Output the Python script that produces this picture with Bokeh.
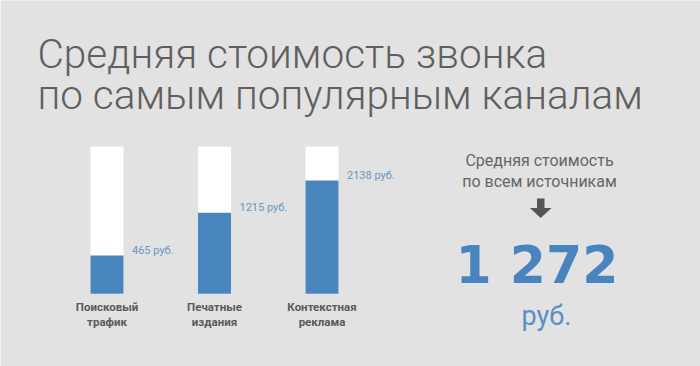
from bokeh.plotting import figure
from bokeh.models import Range1d, ColumnDataSource
from bokeh.core.properties import value
from bokeh.embed import file_html
from bokeh.resources import INLINE

# ---------------- data ----------------
title_lines = ["Средняя стоимость звонка", "по самым популярным каналам"]
categories = ["Поисковый трафик", "Печатные издания", "Контекстная реклама"]
cost_rub = [465, 1215, 2138]
fill_pct = [26, 55, 77]          # fill level of each bar as drawn, % of bar height
full_pct = 100
avg_heading = ["Средняя стоимость", "по всем источникам"]
avg_cost_rub = 1272
unit = "руб."

# ---------------- style ----------------
BG = "#e1e2e1"
BAR_BLUE = "#4a86be"
LABEL_BLUE = "#6d96c6"
BIG_BLUE = "#4a84bf"
TITLE_GREY = "#5f5f5f"
CAT_GREY = "#5a5a5a"
HEAD_GREY = "#666666"

W, H = 700, 366


def span(v0, p0, v1, p1, pa, pb):
    """range values at pixel positions pa (start) and pb (end) for a linear map v0->p0, v1->p1"""
    k = (v1 - v0) / (p1 - p0)
    return v0 + (pa - p0) * k, v0 + (pb - p0) * k


p = figure(width=W, height=H, output_backend="svg", toolbar_location=None,
           x_range=Range1d(0, W), y_range=Range1d(H, 0),
           min_border=0, background_fill_color=BG, border_fill_color=BG,
           outline_line_color=None)
p.axis.visible = False
p.grid.visible = False

# bar scales: index -> horizontal position, percent -> vertical position
xs, xe = span(0, 106.5, 2, 321.5, 0, W)
ys, ye = span(0, 293.3, 100, 146.0, H, 0)
p.extra_x_ranges = {"idx": Range1d(xs, xe)}
p.extra_y_ranges = {"pct": Range1d(ys, ye)}
bar_w = 33 / ((321.5 - 106.5) / 2)

src = ColumnDataSource(dict(
    idx=list(range(len(categories))),
    full=[full_pct] * len(categories),
    fill=fill_pct,
    zero=[0] * len(categories),
    label=[f"{v} {unit}" for v in cost_rub],
    line1=[c.split(" ")[0] for c in categories],
    line2=[c.split(" ")[1] for c in categories],
))

p.vbar(x="idx", width=bar_w, bottom="zero", top="full", source=src,
       x_range_name="idx", y_range_name="pct",
       fill_color="white", line_color=None)
p.vbar(x="idx", width=bar_w, bottom="zero", top="fill", source=src,
       x_range_name="idx", y_range_name="pct",
       fill_color=BAR_BLUE, line_color=None)

p.text(x="idx", y="fill", text="label", source=src,
       x_range_name="idx", y_range_name="pct",
       x_offset=25, y_offset=-5, text_align="left", text_baseline="middle",
       text_font=value("Roboto"), text_font_size="11px", text_color=LABEL_BLUE)

for col, off in (("line1", 13.5), ("line2", 28.5)):
    p.text(x="idx", y="zero", text=col, source=src,
           x_range_name="idx", y_range_name="pct",
           y_offset=off, text_align="center", text_baseline="middle",
           text_font=value("Roboto"), text_font_size="11.5px",
           text_font_style="bold", text_color=CAT_GREY)

# title
p.text(x=[37, 37], y=[53, 94], text=title_lines,
       text_align="left", text_baseline="alphabetic",
       text_font=value("Roboto Light"), text_font_size="40.5px", text_color=TITLE_GREY)

# right block
p.text(x=[539, 539], y=[160, 181], text=avg_heading,
       text_align="center", text_baseline="alphabetic",
       text_font=value("Roboto"), text_font_size="16px", text_color=HEAD_GREY)

p.patch(x=[536.5, 544, 544, 551, 540.2, 529.4, 536.5, 536.5],
        y=[198, 198, 207.5, 207.5, 217.5, 207.5, 207.5, 198],
        fill_color="#555555", line_color=None)

big = f"{avg_cost_rub:,}".replace(",", " ")
p.text(x=[536.5], y=[264], text=[big], text_align="center",
       text_baseline="alphabetic", text_font=value("DejaVu Sans"),
       text_font_size="52px", text_font_style="bold", text_color=BIG_BLUE)
p.text(x=[546], y=[315], text=[unit], text_align="center",
       text_baseline="alphabetic", text_font=value("Roboto"),
       text_font_size="27px", text_color="#5b8fc6")

open("out.html", "w").write(file_html(p, INLINE))
